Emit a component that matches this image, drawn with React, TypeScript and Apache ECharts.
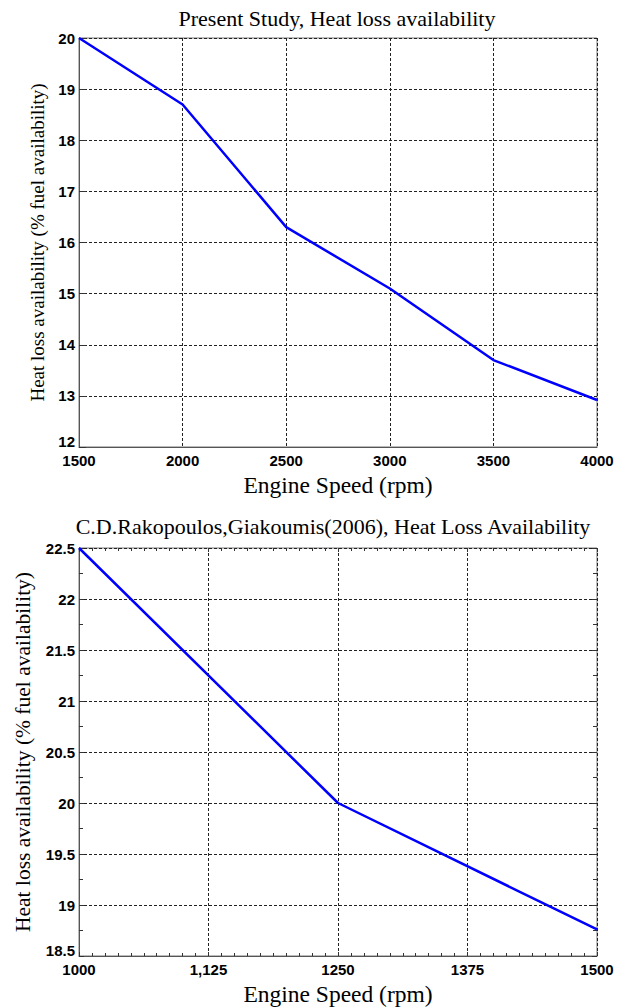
import React, { useEffect, useRef } from "react";
import * as echarts from "echarts";

const topTitle = "Present Study, Heat loss availability";
const bottomTitle = "C.D.Rakopoulos,Giakoumis(2006), Heat Loss Availability";
const xAxisName = "Engine Speed (rpm)";
const yAxisName = "Heat loss availability (% fuel availability)";

const topSpeeds = [1500, 2000, 2500, 3000, 3500, 4000];
const topHeatLoss = [20.0, 18.7, 16.3, 15.1, 13.7, 12.92];

const bottomSpeeds = [1000, 1250, 1500];
const bottomHeatLoss = [22.5, 20.0, 18.76];

const SERIF = "'Liberation Serif', 'Times New Roman', serif";
const SANS = "'Liberation Sans', Arial, sans-serif";

const gridLine = { show: true, lineStyle: { color: "#222", width: 1, type: [3, 2] as any } };
const tickLabel = { color: "#000", fontFamily: SANS, fontWeight: "bold" as const, fontSize: 15, lineHeight: 12 };
const axisLine = { show: true, lineStyle: { color: "#555", width: 1 } };

export default function App() {
  const ref = useRef<HTMLDivElement>(null);
  useEffect(() => {
    document.body.style.margin = "0";
    const chart = echarts.init(ref.current!, null, { renderer: "svg" });
    const gridL = 79;
    const gridW = 518;
    chart.setOption({
      animation: false,
      backgroundColor: "#fff",
      grid: [
        { left: gridL, top: 38, width: gridW, height: 409, show: true, borderColor: "#777", borderWidth: 1 },
        { left: gridL, top: 548, width: gridW, height: 408, show: true, borderColor: "#777", borderWidth: 1 },
      ],
      graphic: [
        { type: "text", x: 337, y: 7, style: { text: topTitle, font: `22px ${SERIF}`, fill: "#000", textAlign: "center" } },
        { type: "text", x: 333, y: 515, style: { text: bottomTitle, font: `22px ${SERIF}`, fill: "#000", textAlign: "center" } },
      ],
      xAxis: [
        {
          type: "value", gridIndex: 0, min: 1500, max: 4000, interval: 500,
          axisLine, axisTick: { show: false }, splitLine: gridLine,
          axisLabel: { ...tickLabel, margin: 7, formatter: (v: number) => String(v) },
          name: xAxisName, nameLocation: "middle", nameGap: 26,
          nameTextStyle: { fontFamily: SERIF, fontSize: 23.5, color: "#000" },
        },
        {
          type: "value", gridIndex: 1, min: 1000, max: 1500, interval: 125,
          axisLine, axisTick: { show: true, inside: true, length: 4, lineStyle: { color: "#333" } },
          minorTick: { show: true, splitNumber: 10, length: 3, lineStyle: { color: "#333" } },
          splitLine: gridLine,
          axisLabel: { ...tickLabel, margin: 7, formatter: (v: number) => (v === 1125 ? "1,125" : String(v)) },
          name: xAxisName, nameLocation: "middle", nameGap: 26,
          nameTextStyle: { fontFamily: SERIF, fontSize: 23.5, color: "#000" },
        },
        {
          type: "value", gridIndex: 1, position: "top", min: 1000, max: 1500, interval: 125,
          axisLine: { show: false }, axisTick: { show: true, inside: true, length: 4, lineStyle: { color: "#333" } },
          minorTick: { show: true, splitNumber: 10, length: 3, lineStyle: { color: "#333" } },
          splitLine: { show: false }, axisLabel: { show: false },
        },
      ],
      yAxis: [
        {
          type: "value", gridIndex: 0, min: 12, max: 20, interval: 1,
          axisLine, axisTick: { show: true, inside: true, length: 7, lineStyle: { color: "#333" } },
          splitLine: gridLine,
          axisLabel: { ...tickLabel, margin: 4, verticalAlignMinLabel: "bottom" },
          name: yAxisName, nameLocation: "middle", nameGap: 32,
          nameTextStyle: { fontFamily: SERIF, fontSize: 19, color: "#000" },
        },
        {
          type: "value", gridIndex: 1, min: 18.5, max: 22.5, interval: 0.5,
          axisLine, axisTick: { show: true, inside: true, length: 5, lineStyle: { color: "#333" } },
          minorTick: { show: true, splitNumber: 2, length: 4, lineStyle: { color: "#333" } },
          splitLine: gridLine,
          axisLabel: { ...tickLabel, margin: 4, verticalAlignMinLabel: "bottom" },
          name: yAxisName, nameLocation: "middle", nameGap: 45,
          nameTextStyle: { fontFamily: SERIF, fontSize: 21.5, color: "#000" },
        },
        {
          type: "value", gridIndex: 1, position: "right", min: 18.5, max: 22.5, interval: 0.5,
          axisLine: { show: false }, axisTick: { show: true, inside: true, length: 5, lineStyle: { color: "#333" } },
          minorTick: { show: true, splitNumber: 2, length: 4, lineStyle: { color: "#333" } },
          splitLine: { show: false }, axisLabel: { show: false },
        },
      ],
      series: [
        {
          type: "line", xAxisIndex: 0, yAxisIndex: 0, showSymbol: false, symbol: "none",
          data: topSpeeds.map((s, i) => [s, topHeatLoss[i]]),
          lineStyle: { color: "#0000ff", width: 2.5 },
        },
        {
          type: "line", xAxisIndex: 1, yAxisIndex: 1, showSymbol: false, symbol: "none",
          data: bottomSpeeds.map((s, i) => [s, bottomHeatLoss[i]]),
          lineStyle: { color: "#0000ff", width: 2.5 },
        },
      ],
    });
    return () => chart.dispose();
  }, []);
  return <div ref={ref} style={{ width: 624, height: 1007 }} />;
}
